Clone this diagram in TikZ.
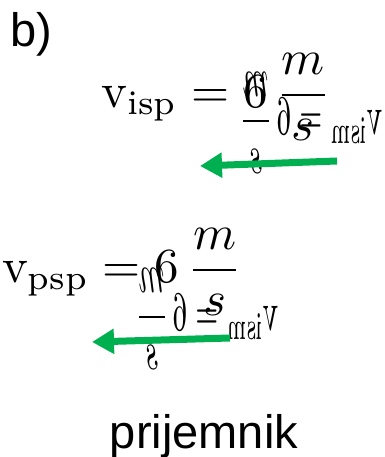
\documentclass[tikz,border=0pt]{standalone}
\usepackage{amsmath}
\usepackage{fontspec}
\newfontfamily\labelfont{Liberation Sans}
\usetikzlibrary{arrows.meta}
\definecolor{velgreen}{RGB}{0,176,80}
\tikzset{
  eqn/.style={scale=4.9, transform shape, inner sep=0pt},
  mirroreqn/.style={xscale=-2.9, yscale=5.6, transform shape, inner sep=0pt},
  biglabel/.style={font=\labelfont\fontsize{47}{50}\selectfont, inner sep=0pt},
  velarr/.style={-{Triangle[length=22pt,width=24pt]}, line width=7pt, velgreen}
}
\begin{document}
\begin{tikzpicture}[x=1pt,y=1pt]
  \useasboundingbox (0,0) rectangle (384,457);
  \node[biglabel, anchor=base west] (part) at (10,410) {b)};
  \node[eqn] (visp) at (216,360) {$\mathrm{v}_{\mathrm{isp}}=6\,\dfrac{m}{s}$};
  \node[mirroreqn] (vismtop) at (311,334) {$\mathrm{v}_{\mathrm{ism}}=6\,\dfrac{m}{s}$};
  \node[eqn] (vpsp) at (122,185) {$\mathrm{v}_{\mathrm{psp}}=6\,\dfrac{m}{s}$};
  \node[mirroreqn] (vismbot) at (207,138) {$\mathrm{v}_{\mathrm{ism}}=6\,\dfrac{m}{s}$};
  \coordinate (toptail) at (337,296);
  \coordinate (tophead) at (200,291);
  \coordinate (bottail) at (230,119);
  \coordinate (bothead) at (92,115);
  \draw[velarr] (toptail) -- (tophead);
  \draw[velarr] (bottail) -- (bothead);
  \node[biglabel, anchor=base] (receiver) at (204,9) {prijemnik};
\end{tikzpicture}
\end{document}
